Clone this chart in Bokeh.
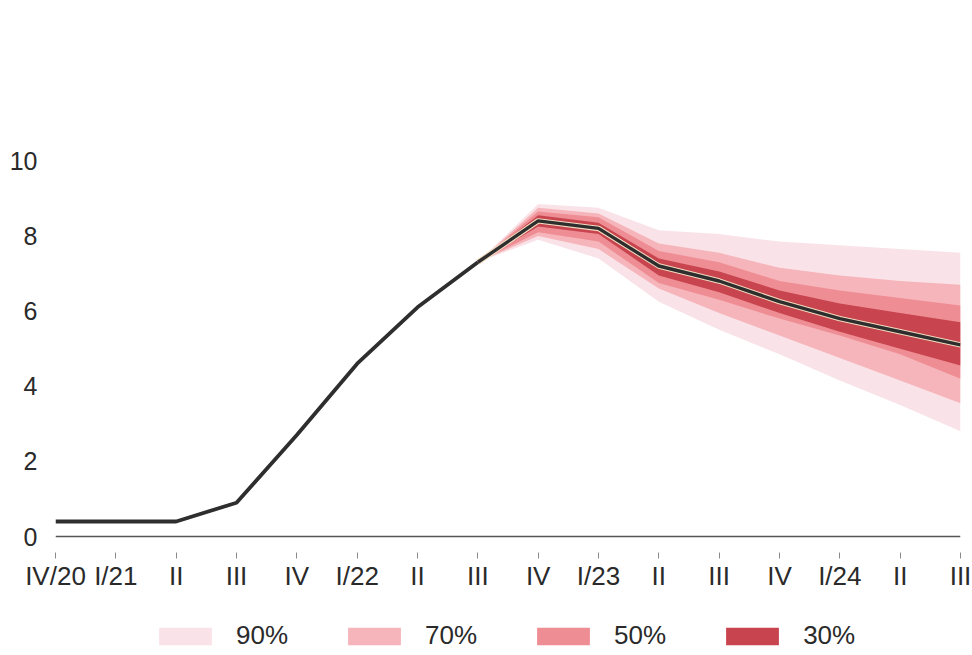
from bokeh.plotting import figure
from bokeh.layouts import column
from bokeh.models import Span, Legend, LegendItem, FixedTicker, Range1d
from bokeh.embed import file_html
from bokeh.resources import INLINE

# ---- data -------------------------------------------------------------
quarters = ["IV/20", "I/21", "II", "III", "IV", "I/22", "II", "III",
            "IV", "I/23", "II", "III", "IV", "I/24", "II", "III"]
x_hist = [0, 1, 2, 3, 4, 5, 6, 7]
history = [0.4, 0.4, 0.4, 0.9, 2.7, 4.6, 6.1, 7.3]

x_fc = [7, 8, 9, 10, 11, 12, 13, 14, 15]
central = [7.3, 8.4, 8.2, 7.2, 6.8, 6.25, 5.8, 5.45, 5.1]
hi30 = [7.3, 8.55, 8.35, 7.4, 7.05, 6.55, 6.2, 5.95, 5.7]
lo30 = [7.3, 8.25, 8.05, 6.95, 6.5, 5.95, 5.45, 5.0, 4.55]
hi50 = [7.3, 8.65, 8.5, 7.6, 7.3, 6.8, 6.55, 6.35, 6.15]
lo50 = [7.3, 8.1, 7.85, 6.75, 6.3, 5.8, 5.35, 4.85, 4.2]
hi70 = [7.3, 8.75, 8.6, 7.8, 7.55, 7.15, 6.95, 6.8, 6.7]
lo70 = [7.3, 8.0, 7.65, 6.6, 5.95, 5.35, 4.75, 4.15, 3.55]
hi90 = [7.3, 8.85, 8.75, 8.15, 8.05, 7.85, 7.75, 7.65, 7.55]
lo90 = [7.3, 7.9, 7.4, 6.25, 5.5, 4.85, 4.15, 3.5, 2.8]

band_labels = ["90%", "70%", "50%", "30%"]
band_colors = ["#f9e3e8", "#f6b5ba", "#ee8e94", "#c8444e"]
y_ticks = [0, 2, 4, 6, 8, 10]

bands = [(lo90, hi90), (lo70, hi70), (lo50, hi50), (lo30, hi30)]

# ---- main figure ------------------------------------------------------
p = figure(width=972, height=605, output_backend="svg", toolbar_location=None,
           x_range=Range1d(0, 15), y_range=Range1d(-0.585, 10.3),
           min_border_left=55, min_border_right=12,
           min_border_top=149, min_border_bottom=47)
p.outline_line_color = None
p.grid.visible = False
p.background_fill_color = "white"
p.border_fill_color = "white"

for (lo, hi), col in zip(bands, band_colors):
    p.varea(x=x_fc, y1=lo, y2=hi, fill_color=col, fill_alpha=1.0)

p.add_layout(Span(location=0, dimension="width", line_color="#555555", line_width=1.5))

p.line(x_fc, central, line_color="#f2dcc0", line_width=5.5)
p.line(x_hist, history, line_color="#2e2e2e", line_width=3.8, line_join="round")
p.line(x_fc, central, line_color="#2e2e2e", line_width=3.4, line_join="round")

ya = p.yaxis[0]
ya.ticker = FixedTicker(ticks=y_ticks)
ya.axis_line_color = None
ya.major_tick_line_color = None
ya.minor_tick_line_color = None
ya.major_label_standoff = 12
ya.major_label_text_font = "Liberation Sans"
ya.major_label_text_font_size = "25px"
ya.major_label_text_color = "#2a2a2a"

xa = p.xaxis[0]
xa.ticker = FixedTicker(ticks=list(range(len(quarters))))
xa.major_label_overrides = {i: q for i, q in enumerate(quarters)}
xa.axis_line_color = None
xa.minor_tick_line_color = None
xa.major_tick_in = 6
xa.major_tick_out = 0
xa.major_tick_line_color = "#8a8a8a"
xa.major_label_standoff = 2
xa.major_label_text_font = "Liberation Sans"
xa.major_label_text_font_size = "26px"
xa.major_label_text_color = "#2a2a2a"

# ---- legend strip (bands drawn out of view; only the legend shows) ----
lf = figure(width=972, height=50, output_backend="svg", toolbar_location=None,
            x_axis_location=None, y_axis_location=None,
            x_range=Range1d(100, 101), y_range=Range1d(100, 101),
            min_border_left=0, min_border_right=0, min_border_top=0, min_border_bottom=0)
lf.outline_line_color = None
lf.grid.visible = False
leg_renderers = [lf.varea(x=x_fc, y1=lo, y2=hi, fill_color=c, fill_alpha=1.0)
                 for (lo, hi), c in zip(bands, band_colors)]
legend = Legend(items=[LegendItem(label=l, renderers=[r]) for l, r in zip(band_labels, leg_renderers)],
                orientation="horizontal", location=(97, 4),
                glyph_width=66, glyph_height=22, label_standoff=18, spacing=53,
                padding=0, margin=0, border_line_alpha=0, background_fill_alpha=0,
                label_text_font="Liberation Sans", label_text_font_size="26px",
                label_text_color="#2a2a2a")
lf.add_layout(legend, "center")

open("out.html", "w").write(file_html(column(p, lf, spacing=0), INLINE))
